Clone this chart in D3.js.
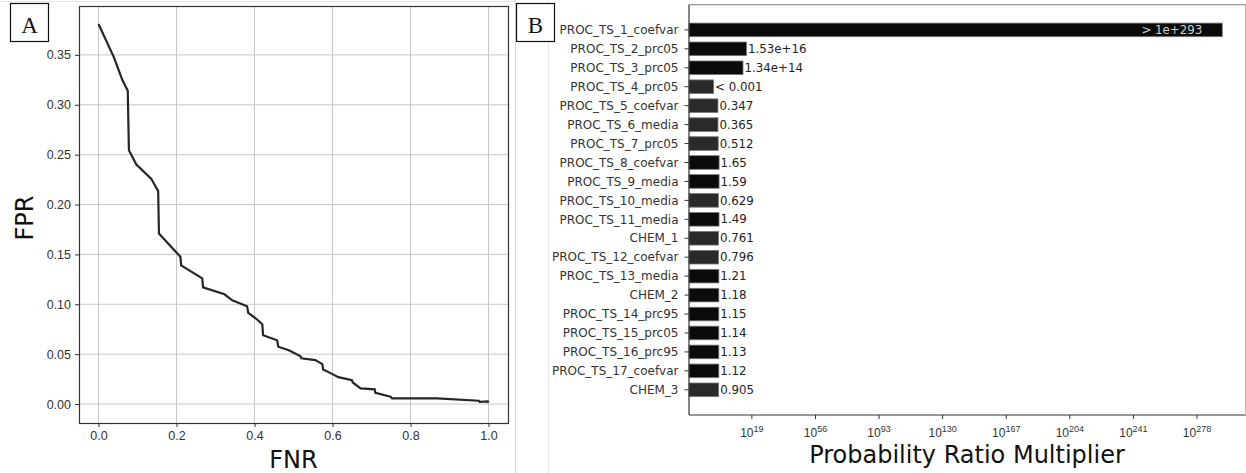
<!DOCTYPE html>
<html>
<head>
<meta charset="utf-8">
<script src="https://cdn.jsdelivr.net/npm/d3@7"></script>
<style>
  body { margin: 0; background: #fff; }
  svg { display: block; font-family: "DejaVu Sans", sans-serif; }
  .axis text { fill: #333; }
  .axis path, .axis line { stroke: #333; }
</style>
</head>
<body>
<svg id="chart" width="1246" height="473"></svg>
<script>
(function (d3) {
    'use strict';

    // panel A: error trade-off curve
    var fnr = [0, 0.039, 0.061, 0.075, 0.078, 0.097, 0.135, 0.153, 0.155, 0.21, 0.212, 0.266, 0.268,
        0.323, 0.343, 0.381, 0.384, 0.403, 0.42, 0.422, 0.458, 0.461, 0.488, 0.518, 0.52, 0.556,
        0.574, 0.576, 0.595, 0.615, 0.65, 0.652, 0.672, 0.708, 0.71, 0.749, 0.753, 0.868, 0.975,
        0.977, 0.998, 1.0];
    var fpr = [0.381, 0.348, 0.325, 0.314, 0.2545, 0.240, 0.226, 0.2134, 0.171, 0.1476, 0.139, 0.126, 0.117,
        0.110, 0.104, 0.098, 0.0915, 0.086, 0.080, 0.069, 0.064, 0.0575, 0.054, 0.048, 0.0458, 0.044,
        0.040, 0.0347, 0.031, 0.027, 0.024, 0.0216, 0.0157, 0.0147, 0.0113, 0.0073, 0.0057, 0.0057, 0.0033,
        0.0023, 0.0027, 0.0012];
    var xTicksA = [0, 0.2, 0.4, 0.6, 0.8, 1.0];
    var yTicksA = [0, 0.05, 0.10, 0.15, 0.20, 0.25, 0.30, 0.35];

    // panel B: probability ratio multipliers
    var features = ['PROC_TS_1_coefvar', 'PROC_TS_2_prc05', 'PROC_TS_3_prc05', 'PROC_TS_4_prc05',
        'PROC_TS_5_coefvar', 'PROC_TS_6_media', 'PROC_TS_7_prc05', 'PROC_TS_8_coefvar', 'PROC_TS_9_media',
        'PROC_TS_10_media', 'PROC_TS_11_media', 'CHEM_1', 'PROC_TS_12_coefvar', 'PROC_TS_13_media',
        'CHEM_2', 'PROC_TS_14_prc95', 'PROC_TS_15_prc05', 'PROC_TS_16_prc95', 'PROC_TS_17_coefvar', 'CHEM_3'];
    var multipliers = [1e293, 1.53e16, 1.34e14, 0.001, 0.347, 0.365, 0.512, 1.65, 1.59, 0.629, 1.49,
        0.761, 0.796, 1.21, 1.18, 1.15, 1.14, 1.13, 1.12, 0.905];
    var valueLabels = ['> 1e+293', '1.53e+16', '1.34e+14', '< 0.001', '0.347', '0.365', '0.512', '1.65',
        '1.59', '0.629', '1.49', '0.761', '0.796', '1.21', '1.18', '1.15', '1.14', '1.13', '1.12', '0.905'];
    var tickExponents = [19, 56, 93, 130, 167, 204, 241, 278];

    var svg = d3.select('#chart');

    // faint frame lines of the pasted figures
    svg.append('line').attr('x1', 0).attr('x2', 515).attr('y1', 1.5).attr('y2', 1.5)
        .style('stroke', '#e6e6e6');
    svg.append('line').attr('x1', 515.5).attr('x2', 515.5).attr('y1', 0).attr('y2', 473)
        .style('stroke', '#d8d8d8');
    svg.append('line').attr('x1', 548.5).attr('x2', 548.5).attr('y1', 0).attr('y2', 473)
        .style('stroke', '#e8e8e8');

    // ---------- panel A ----------
    var ax = { left: 79, right: 508, top: 6, bottom: 423 };
    var x = d3.scaleLinear().domain([-0.05, 1.05]).range([ax.left, ax.right]),
        y = d3.scaleLinear().domain([-0.019, 0.399]).range([ax.bottom, ax.top]);

    var gA = svg.append('g');

    gA.append('g')
        .selectAll('line.vgrid')
        .data(xTicksA)
        .enter()
        .append('line')
        .attr('x1', function (d) { return x(d); })
        .attr('x2', function (d) { return x(d); })
        .attr('y1', ax.top)
        .attr('y2', ax.bottom)
        .style('stroke', '#c8c8c8');

    gA.append('g')
        .selectAll('line.hgrid')
        .data(yTicksA)
        .enter()
        .append('line')
        .attr('x1', ax.left)
        .attr('x2', ax.right)
        .attr('y1', function (d) { return y(d); })
        .attr('y2', function (d) { return y(d); })
        .style('stroke', '#c8c8c8');

    var curve = fnr.map(function (d, i) { return [d, fpr[i]]; });
    gA.append('path')
        .datum(curve)
        .attr('d', d3.line()
            .x(function (d) { return x(d[0]); })
            .y(function (d) { return y(d[1]); }))
        .style('fill', 'none')
        .style('stroke', '#262626')
        .style('stroke-width', 2.2);

    gA.append('g')
        .attr('class', 'axis')
        .attr('transform', 'translate(0,' + ax.bottom + ')')
        .call(d3.axisBottom(x).tickValues(xTicksA).tickSize(4).tickPadding(4).tickFormat(d3.format('.1f')))
        .call(function (g) { g.select('.domain').remove(); })
        .selectAll('text').style('font-size', '12.5px');

    gA.append('g')
        .attr('class', 'axis')
        .attr('transform', 'translate(' + ax.left + ',0)')
        .call(d3.axisLeft(y).tickValues(yTicksA).tickSize(4).tickPadding(4).tickFormat(d3.format('.2f')))
        .call(function (g) { g.select('.domain').remove(); })
        .selectAll('text').style('font-size', '12.5px');

    gA.append('rect')
        .attr('x', ax.left + 0.5)
        .attr('y', ax.top + 0.5)
        .attr('width', ax.right - ax.left)
        .attr('height', ax.bottom - ax.top)
        .style('fill', 'none')
        .style('stroke', '#333')
        .style('stroke-width', 1.2);

    gA.append('text')
        .attr('x', (ax.left + ax.right) / 2)
        .attr('y', 468)
        .style('text-anchor', 'middle')
        .style('font-size', '24px')
        .style('fill', '#111')
        .text('FNR');

    gA.append('text')
        .attr('transform', 'translate(33,' + 218 + ') rotate(-90)')
        .style('text-anchor', 'middle')
        .style('font-size', '24px')
        .style('fill', '#111')
        .text('FPR');

    // ---------- panel B ----------
    var bx = { left: 689, right: 1246, top: 4.7, bottom: 415 };
    var xb = d3.scaleLog().domain([Math.pow(10, -17.3), Math.pow(10, 306.8)]).range([bx.left, bx.right]),
        yb = d3.scaleLinear().domain([-1.33, features.length + 0.33]).range([bx.top, bx.bottom]);
    var barHeight = 13.6;

    var gB = svg.append('g');

    gB.selectAll('rect.bar')
        .data(multipliers)
        .enter()
        .append('rect')
        .attr('class', 'bar')
        .attr('x', bx.left)
        .attr('y', function (d, i) { return yb(i) - barHeight / 2; })
        .attr('width', function (d) { return xb(d) - bx.left; })
        .attr('height', barHeight)
        .style('fill', function (d) { return d >= 1 ? '#0b0b0b' : '#2a2a2a'; })
        .style('stroke', '#777')
        .style('stroke-width', 0.8);

    gB.selectAll('text.val')
        .data(multipliers)
        .enter()
        .append('text')
        .attr('class', 'val')
        .attr('x', function (d, i) { return i === 0 ? xb(d) - 20 : xb(d) + 1.5; })
        .attr('y', function (d, i) { return yb(i); })
        .attr('dy', '0.35em')
        .style('text-anchor', function (d, i) { return i === 0 ? 'end' : 'start'; })
        .style('font-size', '11.8px')
        .style('fill', function (d, i) { return i === 0 ? '#d0d0d0' : '#222'; })
        .text(function (d, i) { return valueLabels[i]; });

    // category axis
    var yAxisB = gB.append('g')
        .attr('class', 'axis')
        .attr('transform', 'translate(' + bx.left + ',0)');
    yAxisB.selectAll('g.tick')
        .data(features)
        .enter()
        .append('g')
        .attr('class', 'tick')
        .attr('transform', function (d, i) { return 'translate(0,' + yb(i) + ')'; })
        .each(function (d) {
            var t = d3.select(this);
            t.append('line').attr('x1', -4.5).attr('x2', 0);
            t.append('text')
                .attr('x', -10.5)
                .attr('dy', '0.35em')
                .style('text-anchor', 'end')
                .style('font-size', '12px')
                .text(d);
        });

    // log axis with superscript labels
    var xAxisB = gB.append('g')
        .attr('class', 'axis')
        .attr('transform', 'translate(0,' + bx.bottom + ')')
        .call(d3.axisBottom(xb)
            .tickValues(tickExponents.map(function (e) { return Math.pow(10, e); }))
            .tickSize(4)
            .tickFormat(''));
    xAxisB.select('.domain').remove();
    xAxisB.selectAll('.tick text').remove();
    xAxisB.selectAll('.tick')
        .data(tickExponents)
        .append('text')
        .attr('y', 22)
        .style('text-anchor', 'middle')
        .style('font-size', '12px')
        .each(function (e) {
            var t = d3.select(this);
            t.append('tspan').text('10');
            t.append('tspan').attr('dy', '-0.55em').style('font-size', '9px').text(e);
        });

    gB.append('line')
        .attr('x1', bx.left).attr('x2', bx.left)
        .attr('y1', bx.top).attr('y2', bx.bottom)
        .style('stroke', '#333').style('stroke-width', 1.2);
    gB.append('line')
        .attr('x1', bx.left).attr('x2', bx.right)
        .attr('y1', bx.bottom).attr('y2', bx.bottom)
        .style('stroke', '#333').style('stroke-width', 1.2);
    gB.append('line')
        .attr('x1', bx.left).attr('x2', bx.right)
        .attr('y1', bx.top).attr('y2', bx.top)
        .style('stroke', '#999').style('stroke-width', 1.2);
    gB.append('line')
        .attr('x1', bx.right - 0.5).attr('x2', bx.right - 0.5)
        .attr('y1', bx.top).attr('y2', bx.bottom)
        .style('stroke', '#bbb');

    gB.append('text')
        .attr('x', 967)
        .attr('y', 463)
        .style('text-anchor', 'middle')
        .style('font-size', '24px')
        .style('fill', '#111')
        .text('Probability Ratio Multiplier');

    // panel letters
    var panels = [{ label: 'A', x: 10, y: 3 }, { label: 'B', x: 516, y: 3 }];
    var letter = svg.selectAll('g.panel-label')
        .data(panels)
        .enter()
        .append('g')
        .attr('class', 'panel-label')
        .attr('transform', function (d) { return 'translate(' + d.x + ',' + d.y + ')'; });
    letter.append('rect')
        .attr('x', 0.5).attr('y', 0.5)
        .attr('width', 38).attr('height', 38)
        .style('fill', '#fff')
        .style('stroke', '#111')
        .style('stroke-width', 1.2);
    letter.append('text')
        .attr('x', 19.5)
        .attr('y', 30)
        .style('text-anchor', 'middle')
        .style('font-family', '"Liberation Serif", "Times New Roman", serif')
        .style('font-size', '23px')
        .style('fill', '#111')
        .text(function (d) { return d.label; });

})(window.d3);
</script>
</body>
</html>
